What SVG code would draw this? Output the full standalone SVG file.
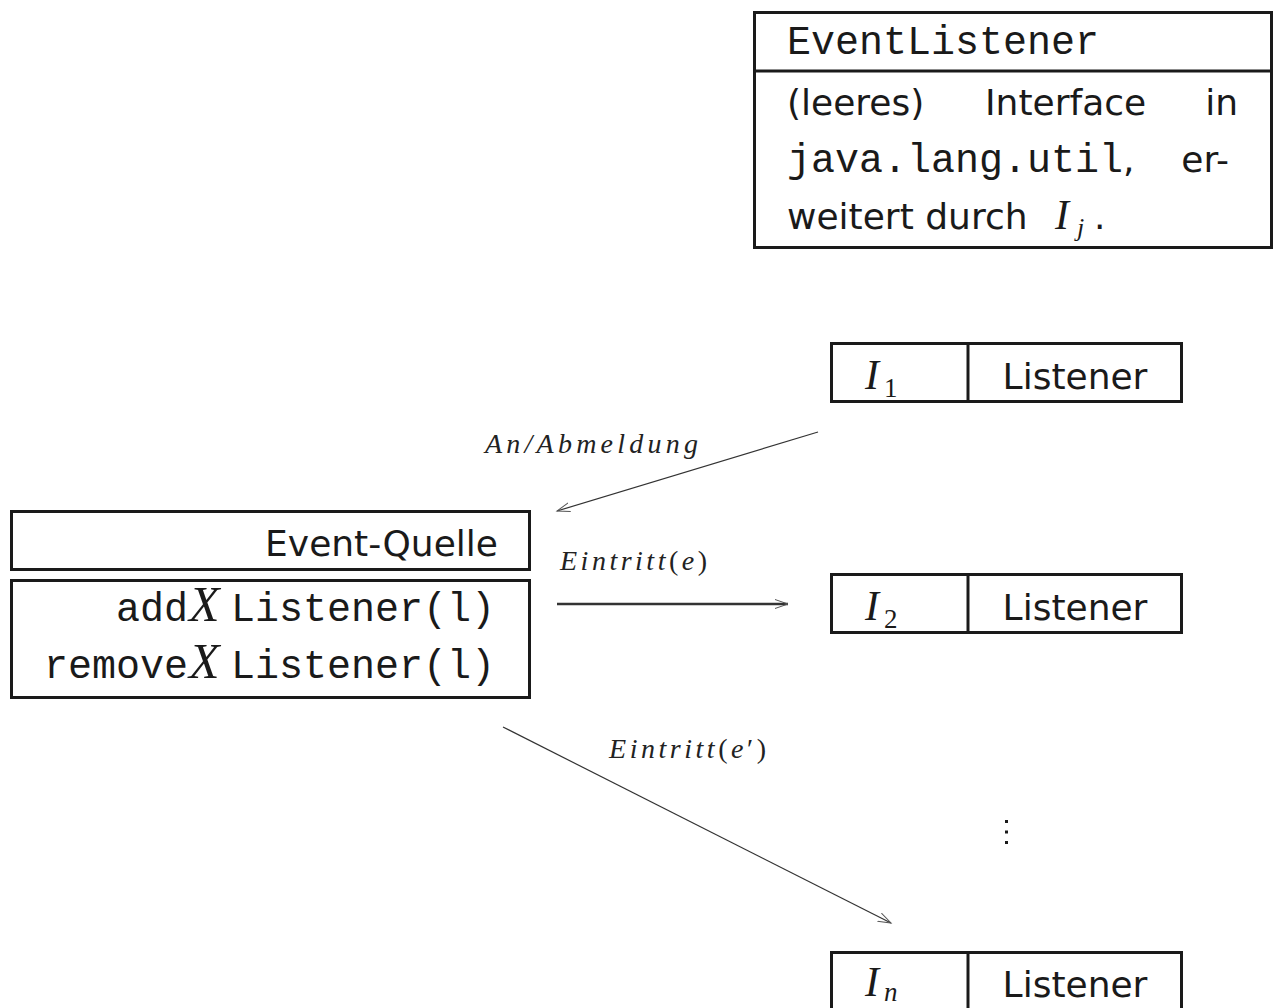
<svg xmlns="http://www.w3.org/2000/svg" width="1278" height="1008" viewBox="0 0 1278 1008">
<style>
.box{fill:none;stroke:#1a1a1a;stroke-width:3}
.sep{stroke:#1a1a1a;stroke-width:3}
.ss{font-family:"DejaVu Sans","Liberation Sans",sans-serif;font-size:36px;fill:#1a1a1a}
.tt{font-family:"Liberation Mono","DejaVu Sans Mono",monospace;font-size:40px;fill:#1a1a1a}
.mi{font-family:"Liberation Serif","DejaVu Serif",serif;font-style:italic;fill:#1a1a1a}
.rm{font-family:"Liberation Serif","DejaVu Serif",serif;font-style:normal;fill:#1a1a1a}
.lbl{font-family:"Liberation Serif","DejaVu Serif",serif;font-style:italic;font-size:28px;fill:#222}
.con{fill:none;stroke:#333;stroke-width:1.2}
</style>
<defs>
<marker id="arr" markerUnits="userSpaceOnUse" markerWidth="16" markerHeight="12" refX="13" refY="5" orient="auto">
<path d="M0,0.5 L13,5 L0,9.5" fill="none" stroke="#555" stroke-width="1"/>
</marker>
</defs>

<g id="eventlistener">
<rect class="box" x="754.5" y="12.5" width="517" height="235"/>
<line class="sep" x1="754.5" y1="71" x2="1271.5" y2="71"/>
<text class="tt" x="787" y="54">EventListener</text>
<text class="ss" x="787" y="115">(leeres)</text>
<text class="ss" x="985" y="115">Interface</text>
<text class="ss" x="1238" y="115" text-anchor="end">in</text>
<text x="787" y="172"><tspan class="tt">java.lang.util</tspan><tspan class="ss">,</tspan></text>
<text class="ss" x="1229" y="172" text-anchor="end">er-</text>
<text class="ss" x="787" y="229">weitert durch</text>
<text class="mi" x="1055" y="229" font-size="42">I</text>
<text class="mi" x="1077" y="236" font-size="26">j</text>
<text class="ss" x="1094" y="229">.</text>
</g>

<g id="listener1">
<rect class="box" x="831.5" y="343.5" width="350" height="58"/>
<line class="sep" x1="968" y1="343.5" x2="968" y2="401.5"/>
<text class="mi" x="865" y="389" font-size="42">I</text>
<text class="rm" x="884" y="397" font-size="27">1</text>
<text class="ss" x="1075" y="389" text-anchor="middle">Listener</text>
</g>

<g id="listener2">
<rect class="box" x="831.5" y="574.5" width="350" height="58"/>
<line class="sep" x1="968" y1="574.5" x2="968" y2="632.5"/>
<text class="mi" x="865" y="620" font-size="42">I</text>
<text class="rm" x="884" y="628" font-size="27">2</text>
<text class="ss" x="1075" y="620" text-anchor="middle">Listener</text>
</g>

<g id="listenern">
<rect class="box" x="831.5" y="952.5" width="350" height="62"/>
<line class="sep" x1="968" y1="952.5" x2="968" y2="1014"/>
<text class="mi" x="865" y="996" font-size="42">I</text>
<text class="mi" x="884" y="1001" font-size="27">n</text>
<text class="ss" x="1075" y="997" text-anchor="middle">Listener</text>
</g>

<g id="eventquelle">
<rect class="box" x="11.5" y="511.5" width="518" height="58"/>
<text class="ss" x="498" y="556" text-anchor="end" font-size="37">Event-Quelle</text>
</g>

<g id="methods">
<rect class="box" x="11.5" y="580.5" width="518" height="117"/>
<text class="tt" x="116" y="621">add</text>
<text class="mi" x="189" y="621" font-size="50">X</text>
<text class="tt" x="231" y="621">Listener(l)</text>
<text class="tt" x="44" y="678">remove</text>
<text class="mi" x="189" y="678" font-size="50">X</text>
<text class="tt" x="231" y="678">Listener(l)</text>
</g>

<g id="vdots" fill="#1a1a1a">
<rect x="1005" y="820" width="3" height="3"/>
<rect x="1005" y="830.5" width="3" height="3"/>
<rect x="1005" y="841" width="3" height="3"/>
</g>

<g id="connectors">
<line class="con" x1="818" y1="432" x2="557" y2="511" marker-end="url(#arr)"/>
<text class="lbl" x="485" y="453" textLength="213" lengthAdjust="spacing">An/Abmeldung</text>
<line class="con" x1="557" y1="604" x2="788" y2="604" style="stroke-width:2.5" marker-end="url(#arr)"/>
<text class="lbl" x="560" y="570" textLength="147" lengthAdjust="spacing">Eintritt<tspan font-style="normal">(</tspan>e<tspan font-style="normal">)</tspan></text>
<line class="con" x1="503" y1="727" x2="891" y2="923" marker-end="url(#arr)"/>
<text class="lbl" x="609" y="758" textLength="157" lengthAdjust="spacing">Eintritt<tspan font-style="normal">(</tspan>e<tspan font-style="normal">′)</tspan></text>
</g>
</svg>
